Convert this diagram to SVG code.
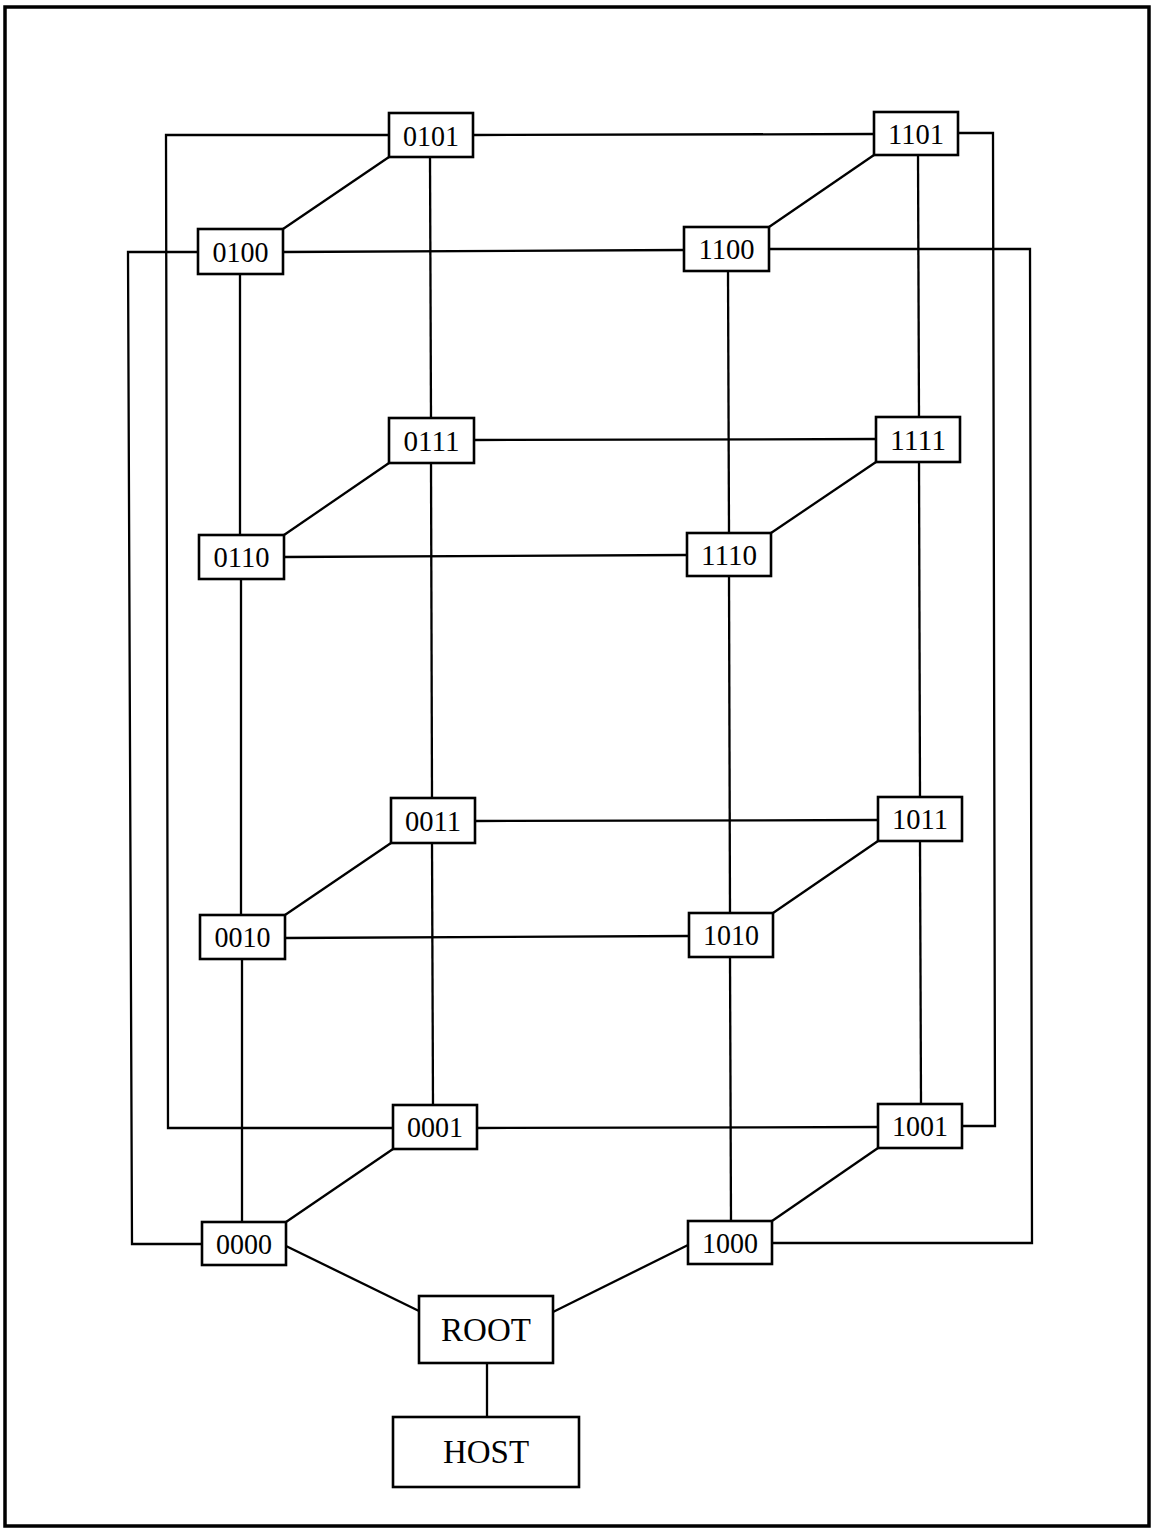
<svg xmlns="http://www.w3.org/2000/svg" width="1152" height="1529" viewBox="0 0 1152 1529">
<style>
.n rect{fill:#fff;stroke:#000;stroke-width:2.6}
.n text{font-family:"Liberation Serif","Times New Roman",serif;font-size:30px;text-anchor:middle;fill:#000}
.big text{font-size:33px}
#edges line,#edges polyline{stroke:#000;stroke-width:2.3;fill:none}
</style>
<rect x="0" y="0" width="1152" height="1529" fill="#fff"/>
<rect x="5" y="7" width="1144" height="1519" fill="none" stroke="#000" stroke-width="3.5"/>
<g id="edges">
<line x1="240" y1="274" x2="240" y2="535"/>
<line x1="241" y1="579" x2="241" y2="915"/>
<line x1="242" y1="959" x2="242" y2="1222"/>
<line x1="430" y1="157" x2="431" y2="418"/>
<line x1="431" y1="463" x2="432" y2="798"/>
<line x1="432" y1="843" x2="433" y2="1105"/>
<line x1="728" y1="271" x2="729" y2="533"/>
<line x1="729" y1="576" x2="730" y2="913"/>
<line x1="730" y1="957" x2="731" y2="1221"/>
<line x1="918" y1="155" x2="919" y2="417"/>
<line x1="919" y1="462" x2="920" y2="797"/>
<line x1="920" y1="841" x2="921" y2="1104"/>
<line x1="473" y1="135" x2="874" y2="134"/>
<line x1="283" y1="252" x2="684" y2="250"/>
<line x1="474" y1="440" x2="876" y2="439"/>
<line x1="284" y1="557" x2="687" y2="555"/>
<line x1="475" y1="821" x2="878" y2="820"/>
<line x1="285" y1="938" x2="689" y2="936"/>
<line x1="477" y1="1128" x2="878" y2="1127"/>
<polyline points="389,135 166,135 168,1128 393,1128"/>
<polyline points="958,133 993,133 995,1126 962,1126"/>
<polyline points="198,252 128,252 132,1244 202,1244"/>
<polyline points="769,249 1030,249 1032,1243 772,1243"/>
<line x1="283" y1="229" x2="389" y2="157"/>
<line x1="769" y1="227" x2="874" y2="155"/>
<line x1="284" y1="535" x2="389" y2="463"/>
<line x1="771" y1="533" x2="876" y2="462"/>
<line x1="285" y1="915" x2="391" y2="843"/>
<line x1="773" y1="913" x2="878" y2="841"/>
<line x1="286" y1="1222" x2="393" y2="1149"/>
<line x1="772" y1="1221" x2="878" y2="1148"/>
<line x1="286" y1="1246" x2="419" y2="1311"/>
<line x1="553" y1="1312" x2="688" y2="1245"/>
<line x1="487" y1="1363" x2="487" y2="1417"/>
</g>
<g id="n0101" class="n"><rect x="389" y="113" width="84" height="44"/><text x="431" y="146" textLength="56" lengthAdjust="spacingAndGlyphs">0101</text></g>
<g id="n1101" class="n"><rect x="874" y="112" width="84" height="43"/><text x="916" y="144" textLength="56" lengthAdjust="spacingAndGlyphs">1101</text></g>
<g id="n0100" class="n"><rect x="198" y="229" width="85" height="45"/><text x="240.5" y="262" textLength="56" lengthAdjust="spacingAndGlyphs">0100</text></g>
<g id="n1100" class="n"><rect x="684" y="227" width="85" height="44"/><text x="726.5" y="259" textLength="56" lengthAdjust="spacingAndGlyphs">1100</text></g>
<g id="n0111" class="n"><rect x="389" y="418" width="85" height="45"/><text x="431.5" y="451" textLength="56" lengthAdjust="spacingAndGlyphs">0111</text></g>
<g id="n1111" class="n"><rect x="876" y="417" width="84" height="45"/><text x="918" y="450" textLength="56" lengthAdjust="spacingAndGlyphs">1111</text></g>
<g id="n0110" class="n"><rect x="199" y="535" width="85" height="44"/><text x="241.5" y="567" textLength="56" lengthAdjust="spacingAndGlyphs">0110</text></g>
<g id="n1110" class="n"><rect x="687" y="533" width="84" height="43"/><text x="729" y="565" textLength="56" lengthAdjust="spacingAndGlyphs">1110</text></g>
<g id="n0011" class="n"><rect x="391" y="798" width="84" height="45"/><text x="433" y="831" textLength="56" lengthAdjust="spacingAndGlyphs">0011</text></g>
<g id="n1011" class="n"><rect x="878" y="797" width="84" height="44"/><text x="920" y="829" textLength="56" lengthAdjust="spacingAndGlyphs">1011</text></g>
<g id="n0010" class="n"><rect x="200" y="915" width="85" height="44"/><text x="242.5" y="947" textLength="56" lengthAdjust="spacingAndGlyphs">0010</text></g>
<g id="n1010" class="n"><rect x="689" y="913" width="84" height="44"/><text x="731" y="945" textLength="56" lengthAdjust="spacingAndGlyphs">1010</text></g>
<g id="n0001" class="n"><rect x="393" y="1105" width="84" height="44"/><text x="435" y="1137" textLength="56" lengthAdjust="spacingAndGlyphs">0001</text></g>
<g id="n1001" class="n"><rect x="878" y="1104" width="84" height="44"/><text x="920" y="1136" textLength="56" lengthAdjust="spacingAndGlyphs">1001</text></g>
<g id="n0000" class="n"><rect x="202" y="1222" width="84" height="43"/><text x="244" y="1254" textLength="56" lengthAdjust="spacingAndGlyphs">0000</text></g>
<g id="n1000" class="n"><rect x="688" y="1221" width="84" height="43"/><text x="730" y="1253" textLength="56" lengthAdjust="spacingAndGlyphs">1000</text></g>
<g id="root" class="n big"><rect x="419" y="1296" width="134" height="67"/><text x="486" y="1341">ROOT</text></g>
<g id="host" class="n big"><rect x="393" y="1417" width="186" height="70"/><text x="486" y="1463">HOST</text></g>
</svg>
